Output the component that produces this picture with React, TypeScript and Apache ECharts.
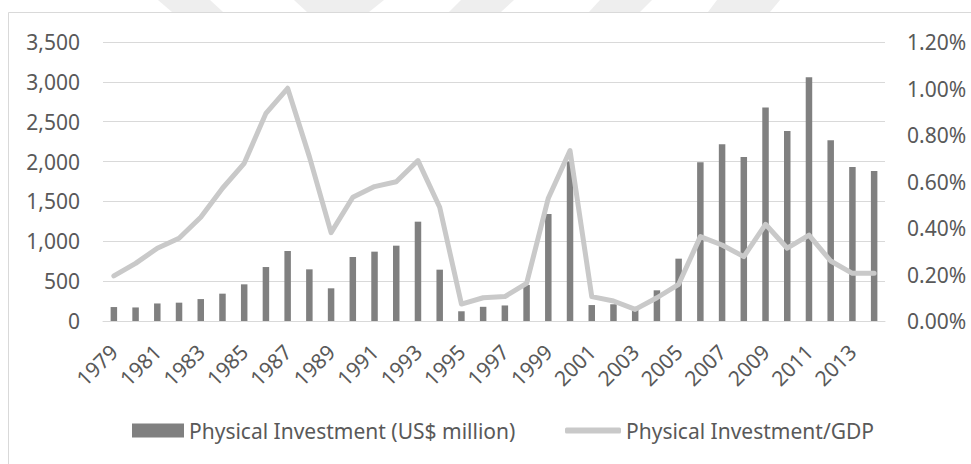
import React, { useEffect, useRef } from "react";
import * as echarts from "echarts";

const years = [
  "1979", "1980", "1981", "1982", "1983", "1984", "1985", "1986", "1987", "1988",
  "1989", "1990", "1991", "1992", "1993", "1994", "1995", "1996", "1997", "1998",
  "1999", "2000", "2001", "2002", "2003", "2004", "2005", "2006", "2007", "2008",
  "2009", "2010", "2011", "2012", "2013", "2014",
];

const investment = [
  175, 170, 220, 230, 275, 343, 460, 677, 878, 648,
  410, 803, 870, 945, 1246, 644, 122, 178, 195, 452,
  1342, 2000, 200, 210, 140, 385, 782, 1990, 2217, 2058,
  2677, 2384, 3058, 2267, 1932, 1882,
];

const investmentToGdp = [
  0.194, 0.248, 0.313, 0.356, 0.446, 0.571, 0.678, 0.893, 1.001, 0.707,
  0.38, 0.532, 0.578, 0.599, 0.69, 0.489, 0.073, 0.1, 0.105, 0.162,
  0.528, 0.733, 0.105, 0.086, 0.05, 0.1, 0.158, 0.363, 0.327, 0.277,
  0.416, 0.313, 0.369, 0.258, 0.205, 0.205,
];

const barName = "Physical Investment (US$ million)";
const lineName = "Physical Investment/GDP";

const FONT = "Noto Sans";
const TXT = "#595959";

export default function App() {
  const ref = useRef<HTMLDivElement>(null);
  useEffect(() => {
    if (!ref.current) return;
    const chart = echarts.init(ref.current, null, { renderer: "svg" });
    const wm = "#eeeeee";
    chart.setOption({
      animation: false,
      backgroundColor: "#ffffff",
      textStyle: { fontFamily: FONT },
      graphic: [
        { type: "polygon", silent: true, z: -1, shape: { points: [[158, 0], [210, 0], [223, 12], [172, 12]] }, style: { fill: wm } },
        { type: "polygon", silent: true, z: -1, shape: { points: [[294, 0], [384, 0], [369, 12], [307, 12]] }, style: { fill: wm } },
        { type: "polygon", silent: true, z: -1, shape: { points: [[461, 0], [514, 0], [501, 12], [449, 12]] }, style: { fill: wm } },
        { type: "polygon", silent: true, z: -1, shape: { points: [[600, 0], [652, 0], [640, 12], [589, 12]] }, style: { fill: wm } },
        { type: "polygon", silent: true, z: -1, shape: { points: [[717, 0], [780, 0], [770, 12], [708, 12]] }, style: { fill: wm } },
        { type: "rect", silent: true, z: -1, shape: { x: 8.5, y: 12.5, width: 1200, height: 1000 }, style: { fill: "none", stroke: "#d9d9d9", lineWidth: 1 } },
      ],
      grid: { left: 103, right: 86, top: 42, bottom: 143, containLabel: false },
      legend: [
        {
          data: [{ name: barName, icon: "rect" }],
          left: 127,
          top: 415,
          itemWidth: 52,
          itemHeight: 14,
          textStyle: { color: TXT, fontSize: 21, fontFamily: FONT },
        },
        {
          data: [{ name: lineName, icon: "roundRect" }],
          left: 560,
          top: 415,
          itemWidth: 56,
          itemHeight: 6,
          itemStyle: { color: "#c9c9c9", borderWidth: 0 },
          textStyle: { color: TXT, fontSize: 21, fontFamily: FONT },
        },
      ],
      xAxis: {
        type: "category",
        data: years,
        boundaryGap: true,
        axisTick: { show: false },
        axisLine: { lineStyle: { color: "#d9d9d9", width: 1 } },
        axisLabel: {
          rotate: 45,
          interval: 1,
          margin: 27,
          color: TXT,
          fontSize: 21,
          fontFamily: FONT,
        },
      },
      yAxis: [
        {
          type: "value",
          min: 0,
          max: 3500,
          interval: 500,
          axisLine: { show: false },
          axisTick: { show: false },
          splitLine: { lineStyle: { color: "#d9d9d9", width: 1 } },
          axisLabel: {
            margin: 23,
            color: TXT,
            fontSize: 21,
            fontFamily: FONT,
            formatter: (v: number) => v.toLocaleString("en-US"),
          },
        },
        {
          type: "value",
          min: 0,
          max: 1.2,
          interval: 0.2,
          axisLine: { show: false },
          axisTick: { show: false },
          splitLine: { show: false },
          axisLabel: {
            margin: 22,
            color: TXT,
            fontSize: 21,
            fontFamily: FONT,
            formatter: (v: number) => v.toFixed(2) + "%",
          },
        },
      ],
      series: [
        {
          name: barName,
          type: "bar",
          data: investment,
          yAxisIndex: 0,
          barWidth: 6.5,
          itemStyle: { color: "#808080" },
        },
        {
          name: lineName,
          type: "line",
          data: investmentToGdp,
          yAxisIndex: 1,
          symbol: "none",
          lineStyle: { color: "#c9c9c9", width: 5, cap: "round", join: "round" },
          itemStyle: { color: "#c9c9c9" },
          z: 3,
        },
      ],
    });
    return () => chart.dispose();
  }, []);
  return (
    <div
      ref={ref}
      style={{ position: "fixed", left: 0, top: 0, width: 971, height: 464 }}
    />
  );
}
